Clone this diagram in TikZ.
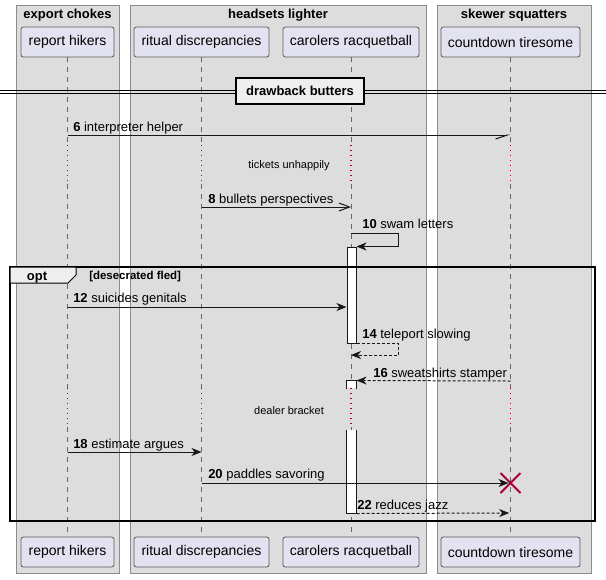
\documentclass[tikz,border=0pt]{standalone}
\usepackage{fontspec}
\setmainfont{Liberation Sans}
\usetikzlibrary{arrows.meta}
\usetikzlibrary{fit}
\usetikzlibrary{calc}
\definecolor{grpfill}{HTML}{DDDDDD}
\definecolor{grpline}{HTML}{8C8C8C}
\definecolor{partfill}{HTML}{E2E2F0}
\definecolor{partline}{HTML}{5A5A5A}
\definecolor{lifeline}{HTML}{666666}
\definecolor{delayred}{HTML}{A80036}
\definecolor{tabfill}{HTML}{EEEEEE}
\definecolor{msgline}{HTML}{181818}

\begin{document}
\begin{tikzpicture}[x=0.75pt,y=-0.75pt,% 1 unidad = 1 px
  grp/.style={draw=grpline,fill=grpfill,line width=0.75pt},
  grptitle/.style={font=\bfseries\fontsize{9.75}{11}\selectfont},
  part/.style={draw=partline,fill=partfill,rounded corners=1.8pt,line width=0.6pt,
    minimum height=22.5pt,inner sep=0pt,font=\fontsize{10.5}{12}\selectfont},
  life/.style={draw=lifeline,line width=0.6pt,dash pattern=on 3.75pt off 3.75pt},
  delay/.style={draw=delayred,line width=0.9pt,dash pattern=on 0.75pt off 3pt},
  act/.style={fill=white,inner sep=0pt,line width=0.75pt},
  msg/.style={draw=msgline,line width=0.75pt,-{Stealth[length=7.5pt,width=6pt,inset=2.25pt]}},
  ret/.style={msg,dash pattern=on 2.25pt off 1.5pt},
  lbl/.style={anchor=base west,inner sep=0pt,font=\fontsize{9.75}{11}\selectfont},
  note/.style={font=\fontsize{8.25}{10}\selectfont},
  kill/.style={draw=delayred,line width=1.5pt}]

\useasboundingbox (0,0) rectangle (606,579);

% boxes
\draw[grp] (16,5) rectangle (119,573);
\draw[grp] (130,5) rectangle (426,573);
\draw[grp] (437,5) rectangle (591,573);
\node[grptitle] (g1) at (67.5,15) {export chokes};
\node[grptitle] (g2) at (278,15) {headsets lighter};
\node[grptitle] (g3) at (514,15) {skewer squatters};

% participants
\node[part,minimum width=69.75pt] (rhT) at (67.5,42) {report hikers};
\node[part,minimum width=101.25pt] (rdT) at (201.5,42) {ritual discrepancies};
\node[part,minimum width=102pt] (crT) at (351,42) {carolers racquetball};
\node[part,minimum width=104.25pt] (ctT) at (510.5,42) {countdown tiresome};
\node[part,minimum width=69.75pt] (rhB) at (67.5,552) {report hikers};
\node[part,minimum width=101.25pt] (rdB) at (201.5,552) {ritual discrepancies};
\node[part,minimum width=102pt] (crB) at (351,552) {carolers racquetball};
\node[part,minimum width=104.25pt] (ctB) at (510.5,552) {countdown tiresome};

\foreach \p in {rh,rd,cr,ct}{
  \draw[life] (\p T) -- (\p T |- 0,145);
  \draw[delay] (\p T |- 0,145) -- (\p T |- 0,184);
  \draw[life] (\p T |- 0,184) -- (\p T |- 0,388);
  \draw[delay] (\p T |- 0,388) -- (\p T |- 0,427);
  \draw[life] (\p T |- 0,427) -- (\p B);
}

% separador
\draw[draw=black,line width=0.75pt] (0,90) -- (606,90) (0,93.5) -- (606,93.5);
\node[draw=black,fill=tabfill,line width=1.5pt,minimum width=96pt,minimum height=19.5pt,
  inner sep=0pt,font=\bfseries\fontsize{9.75}{11}\selectfont] (div) at (300,91) {drawback butters};

\node[note] (d1) at (289,166) {tickets unhappily};
\node[note] (d2) at (289,411) {dealer bracket};

% activaciones
\node[act,draw=msgline,fit={(347,247) (356,343)}] (a1) {};
\node[act,fit={(347,381) (356,388)}] (a2a) {};
\node[act,fit={(347,430) (356,513)}] (a2b) {};
\draw[msgline,line width=0.75pt] (a2a.south west) |- (a2a.north east) -- (a2a.south east);
\draw[msgline,line width=0.75pt] (a2b.north west) |- (a2b.south east) -- (a2b.north east);

% mensajes
\draw[msg,-{Straight Barb[right,length=9pt,width=6pt]}] (rhT |- 0,135) -- (ctT |- 0,135);
\node[lbl] (l6) at (73,131) {\textbf{6} interpreter helper};
\draw[msg,-{Straight Barb[length=8pt,width=6pt]}] (rdT |- 0,207) -- (crT |- 0,207);
\node[lbl] (l8) at (208,203) {\textbf{8} bullets perspectives};
\draw[msg] (crT |- 0,233) -- ++(47,0) |- (a1.north east);
\node[lbl] (l10) at (362,228) {\textbf{10} swam letters};
\draw[msg] (rhT |- 0,307) -- (a1.west |- 0,307);
\node[lbl] (l12) at (73,302) {\textbf{12} suicides genitals};
\draw[ret] (a1.south east) -- ++(42,0) |- (crT |- 0,355);
\node[lbl] (l14) at (362,338) {\textbf{14} teleport slowing};
\draw[ret] (ctT |- 0,381) -- (a2a.north east);
\node[lbl] (l16) at (373,377) {\textbf{16} sweatshirts stamper};
\draw[msg] (rhT |- 0,452) -- (rdT |- 0,452);
\node[lbl] (l18) at (73,448) {\textbf{18} estimate argues};
\draw[msg,shorten >=1.5pt] (rdT |- 0,483) -- (ctT |- 0,483);
\node[lbl] (l20) at (208,478) {\textbf{20} paddles savoring};
\draw[kill] (ctT |- 0,483) +(-10,-10) -- +(10,10) +(-10,10) -- +(10,-10);
\draw[ret,shorten >=1pt] (a2b.south east) -- (ctT |- 0,513);
\node[lbl] (l22) at (357,509) {\textbf{22} reduces jazz};

% opt
\draw[draw=black,line width=1.1pt] (10,267) rectangle (595,521);
\draw[draw=black,fill=tabfill,line width=0.75pt] (10,267) -- (76,267) -- (76,275) -- (68,283) -- (10,283) -- cycle;
\node[anchor=base,inner sep=0pt,font=\bfseries\fontsize{9.75}{11}\selectfont] (opt) at (37,280) {opt};
\node[anchor=base west,inner sep=0pt,font=\bfseries\fontsize{8.6}{10}\selectfont] (cond) at (89,279) {[desecrated fled]};
\end{tikzpicture}
\end{document}
